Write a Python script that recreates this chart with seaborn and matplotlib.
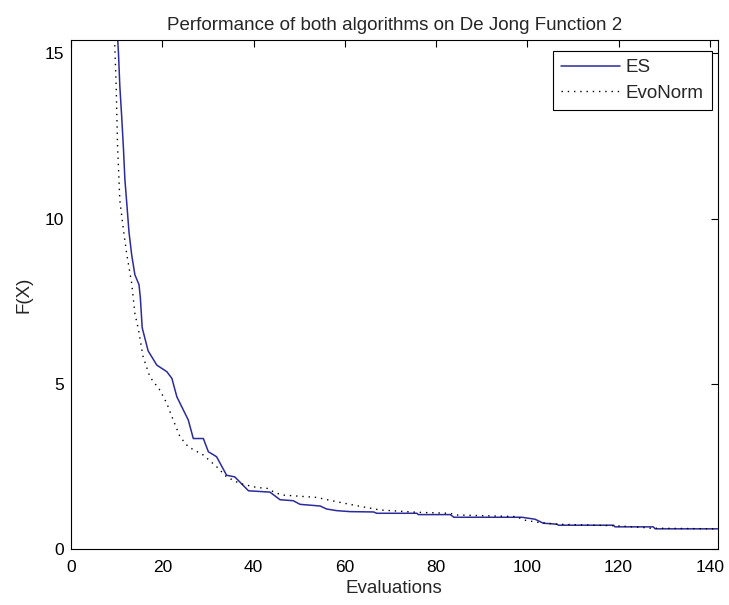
import pandas as pd
import seaborn as sns
import matplotlib.pyplot as plt

# values
es_x = [10.0, 10.4, 10.7, 11.1, 11.5, 11.8, 12.2, 12.7, 13.3, 14.0, 14.9, 15.2, 15.6, 16.9,
        18.8, 21.0, 22.1, 23.2, 25.7, 26.8, 29.0, 30.1, 31.9, 34.1, 35.9, 38.9, 43.6, 45.8,
        48.7, 50.2, 54.6, 56.0, 58.2, 61.2, 66.3, 67.0, 75.8, 76.1, 83.1, 83.9, 98.8, 101.7,
        103.5, 106.5, 106.8, 118.9, 119.2, 127.6, 128.0, 141.7]
es_y = [16.0, 15.0, 14.0, 13.1, 12.1, 11.2, 10.5, 9.6, 8.9, 8.3, 8.0, 7.6, 6.7, 6.0,
        5.57, 5.37, 5.17, 4.61, 3.91, 3.35, 3.35, 2.95, 2.8, 2.24, 2.19, 1.77, 1.73, 1.5,
        1.47, 1.36, 1.31, 1.22, 1.17, 1.14, 1.13, 1.09, 1.09, 1.05, 1.05, 0.97, 0.97, 0.91,
        0.79, 0.76, 0.73, 0.73, 0.68, 0.68, 0.62, 0.62]

evo_x = [9.5, 9.6, 9.9, 10.2, 10.7, 11.5, 12.2, 13.3, 14.0, 14.8, 15.8, 17.3, 19.5, 21.0,
         22.4, 23.9, 25.7, 29.0, 31.9, 34.1, 37.0, 40.7, 43.2, 44.7, 46.5, 53.8, 58.2, 62.6,
         67.7, 75.8, 83.1, 84.2, 97.7, 99.1, 102.1, 106.5, 119.6, 125.4, 126.9, 141.7]
evo_y = [16.0, 15.2, 14.0, 12.2, 10.55, 9.65, 8.94, 8.04, 7.13, 6.63, 5.82, 5.21, 4.81, 4.41,
         3.91, 3.40, 3.10, 2.85, 2.50, 2.19, 1.99, 1.87, 1.84, 1.71, 1.64, 1.57, 1.44, 1.32,
         1.19, 1.12, 1.09, 1.04, 0.99, 0.89, 0.82, 0.76, 0.71, 0.66, 0.64, 0.62]

x_ticks = [0, 20, 40, 60, 80, 100, 120, 140]
y_ticks = [0, 5, 10, 15]

es_df = pd.DataFrame({'Evaluations': es_x, 'F(X)': es_y, 'algorithm': 'ES'})
evo_df = pd.DataFrame({'Evaluations': evo_x, 'F(X)': evo_y, 'algorithm': 'EvoNorm'})

sns.set_style('white')
plt.rcParams['font.family'] = ['Liberation Sans', 'DejaVu Sans']

fig = plt.figure(figsize=(7.29, 6.05), dpi=100)
ax = fig.add_axes([0.0974, 0.092, 0.887, 0.842])

sns.lineplot(data=es_df, x='Evaluations', y='F(X)', color='#2b2b9c', linewidth=1.1,
             estimator=None, label='ES', ax=ax)
sns.lineplot(data=evo_df, x='Evaluations', y='F(X)', color='black', linewidth=1.0,
             linestyle=(0, (1, 3.5)), estimator=None, label='EvoNorm', ax=ax)

ax.set_xlim(0, 141.7)
ax.set_ylim(0, 15.4)
ax.set_xticks(x_ticks)
ax.set_yticks(y_ticks)
ax.tick_params(direction='in', top=True, right=True, length=5, width=0.8,
               colors='black', labelsize=12.5)
ax.tick_params(axis='x', pad=8)
ax.tick_params(axis='y', pad=5)
for side in ax.spines.values():
    side.set_color('black')
    side.set_linewidth(0.8)

ax.set_title('Performance of both algorithms on De Jong Function 2', fontsize=13.5, pad=7)
ax.set_xlabel('Evaluations', fontsize=13.5, labelpad=3)
ax.set_ylabel('F(X)', fontsize=13.5, labelpad=9)

leg = ax.legend(loc='upper right', bbox_to_anchor=(0.9917, 0.9784), borderaxespad=0,
                fancybox=False, framealpha=1, edgecolor='black', handlelength=3.15,
                fontsize=13.5, borderpad=0.45, labelspacing=0.45, handletextpad=0.3)
leg.get_frame().set_linewidth(0.8)

fig.savefig('out.png', dpi=100)
